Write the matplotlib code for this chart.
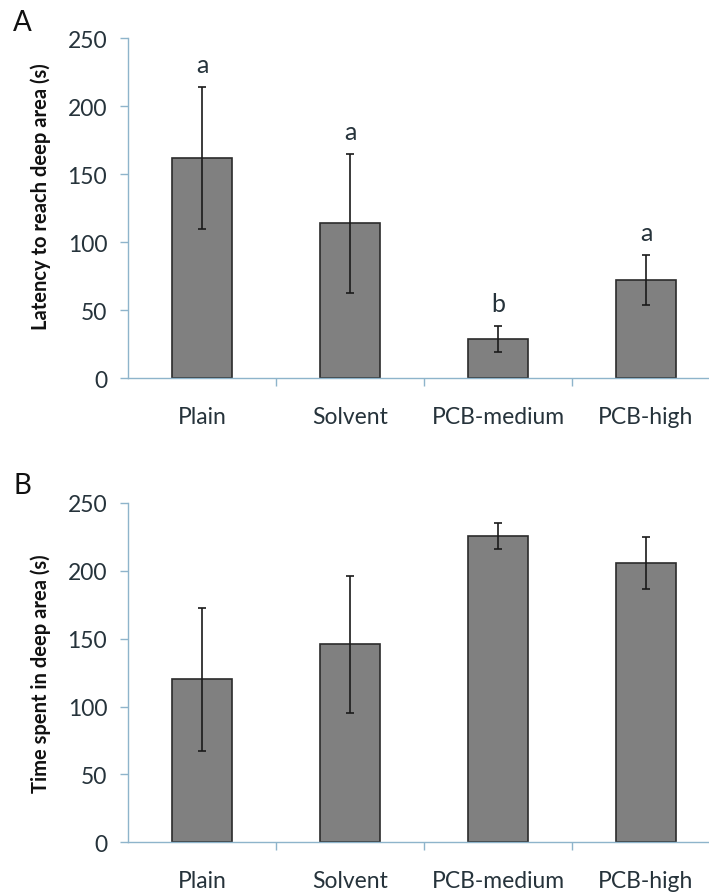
import matplotlib.pyplot as plt

groups = ["Plain", "Solvent", "PCB-medium", "PCB-high"]

latency = [162, 114, 29, 72.5]
latency_err = [52, 51, 9.5, 18.5]
latency_letters = ["a", "a", "b", "a"]

time_deep = [120, 146, 225.5, 206]
time_deep_err = [52.5, 50.5, 9.5, 19]

W, H = 709, 895
plt.rcParams['font.family'] = ['Lato', 'DejaVu Sans']
text_col = '#26333b'
axis_col = '#8eb4cb'

fig = plt.figure(figsize=(W / 100, H / 100), dpi=100)


def panel(rect, vals, errs):
    ax = fig.add_axes(rect)
    x = range(len(vals))
    ax.bar(x, vals, width=0.4, color='#808080', edgecolor='#2b2b2b', linewidth=1.2, zorder=2)
    ax.errorbar(x, vals, yerr=errs, fmt='none', ecolor='#1a1a1a', elinewidth=1.2,
                capsize=3, capthick=1.2, zorder=3)
    ax.set_xlim(-0.5, len(vals) - 0.5)
    ax.set_ylim(0, 250)
    ax.set_yticks(range(0, 251, 50))
    ax.set_xticks([i + 0.5 for i in range(len(vals) - 1)])
    ax.set_xticklabels([])
    ax.set_xticks(list(x), minor=True)
    ax.set_xticklabels(groups, minor=True)
    for s in ['top', 'right']:
        ax.spines[s].set_visible(False)
    for s in ['left', 'bottom']:
        ax.spines[s].set_color(axis_col)
        ax.spines[s].set_linewidth(1.0)
    ax.tick_params(axis='y', colors=axis_col, labelcolor=text_col, labelsize=16.5,
                   length=6, width=1.0, pad=9)
    ax.tick_params(axis='x', which='major', colors=axis_col, length=6, width=1.0)
    ax.tick_params(axis='x', which='minor', length=0, labelsize=16.5,
                   labelcolor=text_col, pad=20)
    return ax


ax_a = panel([128 / W, 1 - 379.3 / H, 592 / W, 340 / H], latency, latency_err)
for i, (v, e, t) in enumerate(zip(latency, latency_err, latency_letters)):
    ax_a.text(i, v + e + 11, t, ha='center', va='baseline', fontsize=18, color=text_col)

ax_b = panel([128 / W, 1 - 843.3 / H, 592 / W, 339.3 / H], time_deep, time_deep_err)

fig.text(41 / W, 1 - 197 / H, "Latency to reach deep area (s)", rotation=90,
         ha='center', va='center', fontsize=14.5, fontweight='bold', color='#111111')
fig.text(41 / W, 1 - 674 / H, "Time spent in deep area (s)", rotation=90,
         ha='center', va='center', fontsize=14.5, fontweight='bold', color='#111111')

fig.text(22 / W, 1 - 23 / H, "A", ha='center', va='center', fontsize=20, color='#111111')
fig.text(22 / W, 1 - 486 / H, "B", ha='center', va='center', fontsize=20, color='#111111')

fig.savefig("out.png", dpi=100)
